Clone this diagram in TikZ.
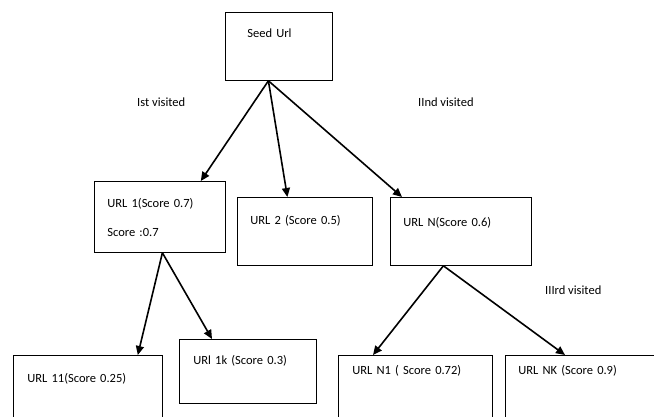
\documentclass[tikz,border=0pt]{standalone}
\usepackage{fontspec}
\setmainfont{Carlito}
\usetikzlibrary{arrows.meta}
\usetikzlibrary{calc}

\tikzset{
	urlbox/.style={draw, line width=0.8pt, anchor=north west, inner ysep=0pt, align=left},
	visit/.style={-{Triangle[length=9pt,width=8pt]}, line width=1.6pt},
	note/.style={anchor=west, inner sep=0pt}
}

\begin{document}
\begin{tikzpicture}[x=1pt, y=-1pt, font=\fontsize{12.5}{14.5}\selectfont]
	% 654 x 417, y going down
	\useasboundingbox[fill=white] (0,0) rectangle (654,417);
	\clip (0,0) rectangle (654,417);
	% seed
	\node[urlbox, inner xsep=22pt, text width=63pt, text height=25pt, text depth=43pt] (seed) at (225,12) {Seed Url};
	% first level
	\node[urlbox, inner xsep=13pt, text width=105pt, text height=26pt, text depth=45pt] (u1) at (94,181) {URL 1(Score 0.7)\\[14.5pt]Score :0.7};
	\node[urlbox, inner xsep=13pt, text width=109pt, text height=27pt, text depth=41pt] (u2) at (237,197) {URL 2 (Score 0.5)};
	\node[urlbox, inner xsep=13pt, text width=115pt, text height=29pt, text depth=39pt] (uN) at (390,197) {URL N(Score 0.6)};
	% second level
	\node[urlbox, inner xsep=14pt, text width=121pt, text height=27pt, text depth=50pt] (u11) at (13,355) {URL 11(Score 0.25)};
	\node[urlbox, inner xsep=14pt, text width=109pt, text height=25pt, text depth=39pt] (u1k) at (179,339) {URl 1k (Score 0.3)};
	\node[urlbox, inner xsep=14pt, text width=126pt, text height=19pt, text depth=55pt] (uN1) at (338,355) {URL N1 ( Score 0.72)};
	\node[urlbox, inner xsep=13pt, text width=134pt, text height=19pt, text depth=55pt] (uNK) at (505,355) {URL NK (Score 0.9)};
	% visit order
	\node[note] (v1) at (137,102) {Ist visited};
	\node[note] (v2) at (418,102) {IInd visited};
	\node[note] (v3) at (545,290) {IIIrd visited};
	% links
	\draw[visit] ([xshift=-10.5pt]seed.south) -- ([xshift=-25pt]u1.north east);
	\draw[visit] ([xshift=-10.5pt]seed.south) -- ([xshift=-17.5pt]u2.north);
	\draw[visit] ([xshift=-10.5pt]seed.south) -- ([xshift=12pt]uN.north west);
	\draw[visit] ([xshift=2.5pt]u1.south) -- ([xshift=-25pt]u11.north east);
	\draw[visit] ([xshift=2.5pt]u1.south) -- ([xshift=33pt]u1k.north west);
	\draw[visit] ([xshift=-17.5pt]uN.south) -- ([xshift=35pt]uN1.north west);
	\draw[visit] ([xshift=-17.5pt]uN.south) -- ([xshift=60pt]uNK.north west);
\end{tikzpicture}
\end{document}
